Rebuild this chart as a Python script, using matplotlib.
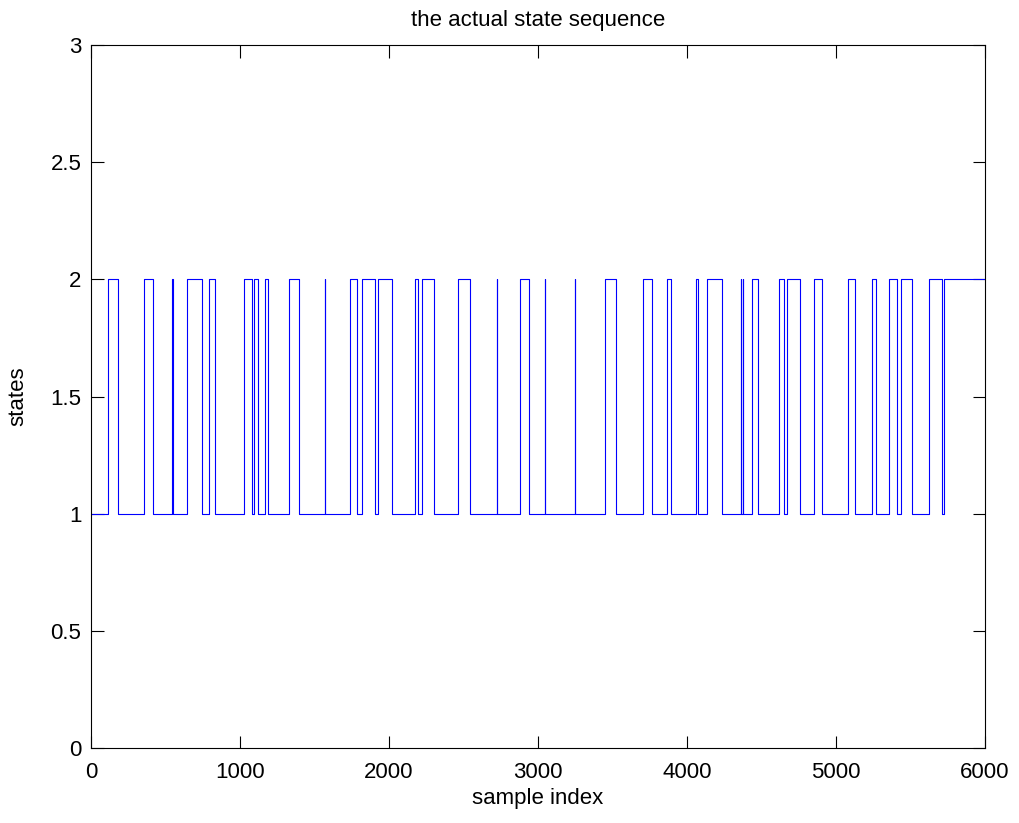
# State sequence of the two-state chain, drawn as a step trace
import numpy as np
import matplotlib
matplotlib.use("Agg")
import matplotlib.pyplot as plt

plt.rcParams['font.family'] = ['Liberation Sans', 'DejaVu Sans']

# sample index where each run starts, and the state held during that run
run_start = [0, 116, 183, 356, 418, 546, 549, 644, 743, 792, 832,
             1027, 1082, 1096, 1118, 1168, 1190, 1331, 1396, 1569, 1572,
             1738, 1783, 1821, 1906, 1928, 2018, 2174, 2197, 2224, 2304,
             2461, 2544, 2722, 2725, 2879, 2940, 3046, 3049, 3247, 3250,
             3450, 3521, 3707, 3763, 3863, 3893, 4058, 4076, 4132, 4233,
             4360, 4363, 4375, 4379, 4438, 4478, 4617, 4651, 4669, 4758,
             4854, 4903, 5078, 5127, 5239, 5266, 5355, 5407, 5436, 5508,
             5624, 5709, 5725]
run_state = [1, 2] * (len(run_start) // 2)
n_samples = 6000

x = np.array(run_start + [n_samples])
y = np.array(run_state + [run_state[-1]])

fig = plt.figure(figsize=(10.19, 8.23), dpi=100)
ax = fig.add_axes([0.0893, 0.0911, 0.8773, 0.8542])
ax.step(x, y, where='post', color='#0000ff', linewidth=0.8)

ax.set_xlim(0, 6000)
ax.set_ylim(0, 3)
ax.set_xticks(np.arange(0, 6001, 1000))
ax.set_yticks(np.arange(0, 3.01, 0.5))
ax.set_yticklabels(['0', '0.5', '1', '1.5', '2', '2.5', '3'])
ax.tick_params(direction='in', top=True, right=True, length=9,
               labelsize=16)
ax.tick_params(axis='x', pad=10)
ax.tick_params(axis='y', pad=7)
for s in ax.spines.values():
    s.set_linewidth(0.8)

ax.set_title('the actual state sequence', fontsize=16, pad=14)
ax.set_xlabel('sample index', fontsize=16, labelpad=4)
ax.set_ylabel('states', fontsize=16, labelpad=16)

fig.savefig("out.png", dpi=100)
